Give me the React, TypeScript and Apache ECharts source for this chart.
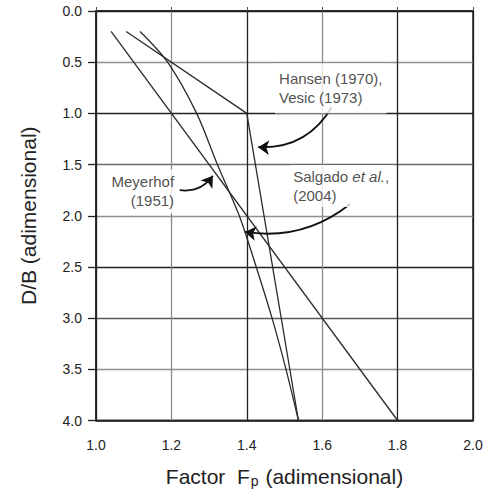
import React, { useEffect, useRef } from "react";
import * as echarts from "echarts";

// Depth factor Fp versus embedment ratio D/B, three published relations
const meyerhof: [number, number][] = [
  [1.04, 0.2],
  [1.8, 4.0],
];
const hansenVesic: [number, number][] = [
  [1.08, 0.2],
  [1.4, 1.0],
  [1.537, 4.0],
];
const salgado: [number, number][] = [
  [1.117, 0.2],
  [1.19, 0.5],
  [1.267, 1.0],
  [1.322, 1.5],
  [1.38, 2.0],
  [1.425, 2.5],
  [1.467, 3.0],
  [1.504, 3.5],
  [1.537, 4.0],
];

// Axis ranges and tick spacing
const fpRange = [1.0, 2.0];
const fpStep = 0.2;
const dbRange = [0.0, 4.0];
const dbStep = 0.5;

const FONT = "'Liberation Sans', Arial, Helvetica, sans-serif";
const INK = "#222";

export default function App() {
  const ref = useRef<HTMLDivElement>(null);

  useEffect(() => {
    if (!ref.current) return;
    const chart = echarts.init(ref.current, undefined, { renderer: "svg" });

    const curveStyle = { color: "#2a2a2a", width: 1.3 };
    const annText = { fontSize: 15, color: INK, fontFamily: FONT, lineHeight: 19 };

    const option: echarts.EChartsOption = {
      animation: false,
      backgroundColor: "#fff",
      textStyle: { fontFamily: FONT, color: INK },
      grid: {
        left: 96,
        right: 16,
        top: 11,
        bottom: 71,
        show: true,
        borderColor: INK,
        borderWidth: 1.5,
      },
      xAxis: [
        {
          type: "value",
          min: fpRange[0],
          max: fpRange[1],
          interval: fpStep,
          position: "bottom",
          name: "{a|Factor  F}{sub|p}{a| (adimensional)}",
          nameLocation: "middle",
          nameGap: 44,
          nameTextStyle: {
            rich: {
              a: { fontSize: 21, color: INK, fontFamily: FONT, lineHeight: 24 },
              sub: { fontSize: 14, color: INK, fontFamily: FONT, lineHeight: 14, padding: [9, 1, 0, 1] },
            },
          },
          axisLine: { onZero: false, lineStyle: { color: INK, width: 1.5 } },
          axisTick: { show: false },
          axisLabel: {
            margin: 17,
            fontSize: 14,
            color: INK,
            fontFamily: FONT,
            formatter: (v: number) => v.toFixed(1),
          },
          splitLine: {
            show: true,
            lineStyle: {
              color: ["#222", "#8a8a8a", "#222", "#8a8a8a", "#222", "#222"],
              width: 1.3,
            },
          },
        },
        {
          type: "value",
          min: fpRange[0],
          max: fpRange[1],
          interval: fpStep,
          position: "top",
          axisLine: { onZero: false, lineStyle: { color: INK, width: 1.5 } },
          axisTick: { show: true, length: 4, inside: false, lineStyle: { color: "#555" } },
          axisLabel: { show: false },
          splitLine: { show: false },
        },
      ],
      yAxis: {
        type: "value",
        inverse: true,
        min: dbRange[0],
        max: dbRange[1],
        interval: dbStep,
        name: "D/B (adimensional)",
        nameLocation: "middle",
        nameGap: 57,
        nameTextStyle: { fontSize: 21, color: INK, fontFamily: FONT },
        axisLine: { onZero: false, lineStyle: { color: INK, width: 1.5 } },
        axisTick: { show: true, length: 8, inside: false, lineStyle: { color: INK, width: 1.3 } },
        axisLabel: {
          margin: 14,
          fontSize: 14,
          color: INK,
          fontFamily: FONT,
          formatter: (v: number) => v.toFixed(1),
        },
        splitLine: {
          show: true,
          lineStyle: {
            color: ["#222", "#8f8f8f", "#222", "#6a6a6a", "#8f8f8f", "#222", "#5a5a5a", "#8f8f8f", "#222"],
            width: 1.3,
          },
        },
      },
      series: [
        {
          type: "line",
          name: "Meyerhof (1951)",
          data: meyerhof,
          symbol: "none",
          lineStyle: curveStyle,
          z: 3,
        },
        {
          type: "line",
          name: "Hansen (1970), Vesic (1973)",
          data: hansenVesic,
          symbol: "none",
          lineStyle: curveStyle,
          z: 3,
        },
        {
          type: "line",
          name: "Salgado et al. (2004)",
          data: salgado,
          symbol: "none",
          smooth: 0.3,
          lineStyle: curveStyle,
          z: 3,
        },
        {
          // curved leader arrows from the annotations to their curves
          type: "lines",
          coordinateSystem: "cartesian2d",
          symbol: ["none", "arrow"],
          symbolSize: [8, 11],
          z: 4,
          lineStyle: { color: "#111", width: 1.8, opacity: 1 },
          data: [
            { coords: [[1.625, 0.94], [1.43, 1.33]], lineStyle: { curveness: 0.3 } },
            { coords: [[1.674, 1.885], [1.395, 2.158]], lineStyle: { curveness: 0.22 } },
            { coords: [[1.222, 1.75], [1.31, 1.61]], lineStyle: { curveness: -0.3 } },
          ],
        },
        {
          // annotation texts with opaque boxes
          type: "scatter",
          symbolSize: 0,
          z: 5,
          silent: true,
          data: [
            {
              value: [1.215, 1.763],
              label: {
                show: true,
                position: "inside",
                align: "right",
                verticalAlign: "middle",
                formatter: "Meyerhof\n(1951)",
                backgroundColor: "#fff",
                padding: [3, 3, 3, 6],
                ...annText,
              },
            },
            {
              value: [1.475, 0.756],
              label: {
                show: true,
                position: "inside",
                align: "left",
                verticalAlign: "middle",
                formatter: "Hansen (1970),\nVesic (1973)",
                backgroundColor: "#fff",
                padding: [6, 4, 6, 4],
                ...annText,
              },
            },
            {
              value: [1.515, 1.71],
              label: {
                show: true,
                position: "inside",
                align: "left",
                verticalAlign: "middle",
                formatter: "{n|Salgado }{i|et al.}{n|,}\n{n|(2004)}",
                backgroundColor: "#fff",
                padding: [2, 5, 2, 3],
                rich: {
                  n: { ...annText },
                  i: { ...annText, fontStyle: "italic" },
                },
              },
            },
          ],
        },
      ],
    };

    chart.setOption(option);
    return () => chart.dispose();
  }, []);

  return (
    <div
      ref={ref}
      style={{ position: "fixed", left: 0, top: 0, width: 489, height: 493, background: "#fff" }}
    />
  );
}
